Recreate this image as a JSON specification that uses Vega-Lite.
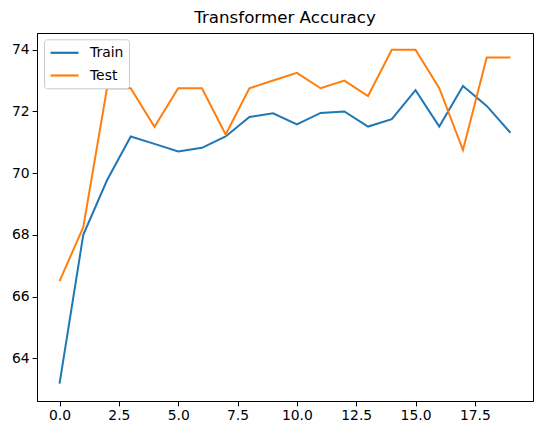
{
  "$schema": "https://vega.github.io/schema/vega-lite/v6.json",
  "width": 496,
  "height": 368,
  "autosize": "none",
  "padding": {"left": 37, "top": 33, "right": 10, "bottom": 34},
  "background": "white",
  "title": {"text": "Transformer Accuracy", "fontSize": 16.7, "font": "DejaVu Sans", "fontWeight": "normal", "color": "black", "offset": 6},
  "config": {
    "view": {"stroke": "black", "strokeWidth": 1},
    "font": "DejaVu Sans",
    "axis": {"grid": false, "domainColor": "black", "tickColor": "black", "labelColor": "black", "labelFontSize": 13.9, "labelFont": "DejaVu Sans", "tickSize": 4.9, "labelPadding": 3, "title": null, "domainWidth": 1}
  },
  "data": {"values": [
    {"epoch": 0, "series": "Train", "acc": 63.18},
    {"epoch": 1, "series": "Train", "acc": 68.0},
    {"epoch": 2, "series": "Train", "acc": 69.77},
    {"epoch": 3, "series": "Train", "acc": 71.19},
    {"epoch": 4, "series": "Train", "acc": 70.95},
    {"epoch": 5, "series": "Train", "acc": 70.7},
    {"epoch": 6, "series": "Train", "acc": 70.82},
    {"epoch": 7, "series": "Train", "acc": 71.19},
    {"epoch": 8, "series": "Train", "acc": 71.82},
    {"epoch": 9, "series": "Train", "acc": 71.94},
    {"epoch": 10, "series": "Train", "acc": 71.58},
    {"epoch": 11, "series": "Train", "acc": 71.95},
    {"epoch": 12, "series": "Train", "acc": 72.0},
    {"epoch": 13, "series": "Train", "acc": 71.51},
    {"epoch": 14, "series": "Train", "acc": 71.75},
    {"epoch": 15, "series": "Train", "acc": 72.69},
    {"epoch": 16, "series": "Train", "acc": 71.51},
    {"epoch": 17, "series": "Train", "acc": 72.82},
    {"epoch": 18, "series": "Train", "acc": 72.18},
    {"epoch": 19, "series": "Train", "acc": 71.31},
    {"epoch": 0, "series": "Test", "acc": 66.5},
    {"epoch": 1, "series": "Test", "acc": 68.25},
    {"epoch": 2, "series": "Test", "acc": 72.75},
    {"epoch": 3, "series": "Test", "acc": 72.75},
    {"epoch": 4, "series": "Test", "acc": 71.5},
    {"epoch": 5, "series": "Test", "acc": 72.75},
    {"epoch": 6, "series": "Test", "acc": 72.75},
    {"epoch": 7, "series": "Test", "acc": 71.25},
    {"epoch": 8, "series": "Test", "acc": 72.75},
    {"epoch": 9, "series": "Test", "acc": 73.0},
    {"epoch": 10, "series": "Test", "acc": 73.25},
    {"epoch": 11, "series": "Test", "acc": 72.75},
    {"epoch": 12, "series": "Test", "acc": 73.0},
    {"epoch": 13, "series": "Test", "acc": 72.5},
    {"epoch": 14, "series": "Test", "acc": 74.0},
    {"epoch": 15, "series": "Test", "acc": 74.0},
    {"epoch": 16, "series": "Test", "acc": 72.75},
    {"epoch": 17, "series": "Test", "acc": 70.75},
    {"epoch": 18, "series": "Test", "acc": 73.75},
    {"epoch": 19, "series": "Test", "acc": 73.75}
  ]},
  "mark": {"type": "line", "strokeWidth": 2},
  "encoding": {
    "x": {"field": "epoch", "type": "quantitative", "scale": {"domain": [-0.95, 19.95], "nice": false, "zero": false},
          "axis": {"values": [0, 2.5, 5, 7.5, 10, 12.5, 15, 17.5], "format": ".1f"}},
    "y": {"field": "acc", "type": "quantitative", "scale": {"domain": [62.62, 74.54], "nice": false, "zero": false},
          "axis": {"values": [64, 66, 68, 70, 72, 74], "format": "d"}},
    "color": {"field": "series", "type": "nominal", "sort": ["Train", "Test"],
              "scale": {"domain": ["Train", "Test"], "range": ["#1f77b4", "#ff7f0e"]},
              "legend": {"title": null, "orient": "none", "legendX": 7, "legendY": 6.3, "symbolType": "M-2,0H2", "symbolSize": 196, "symbolOffset": 7, "symbolStrokeWidth": 2.2, "symbolFillColor": "transparent", "labelFontSize": 13.9, "labelFont": "DejaVu Sans", "labelColor": "black", "labelOffset": 17, "padding": 5, "rowPadding": 6.7, "strokeColor": "#cccccc", "fillColor": "white", "cornerRadius": 3}}
  }
}
